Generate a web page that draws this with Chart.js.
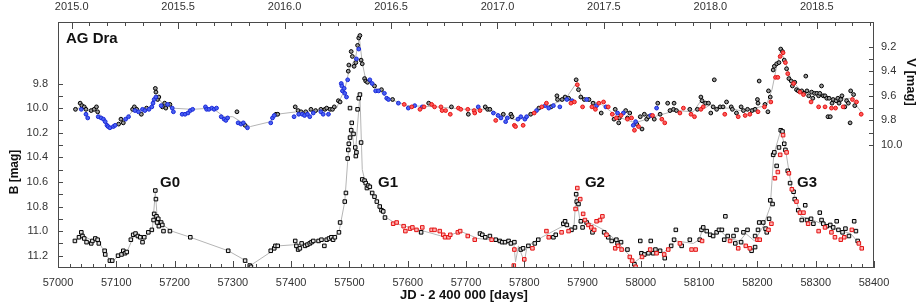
<!DOCTYPE html>
<html>
<head>
<meta charset="utf-8">
<script src="https://cdn.jsdelivr.net/npm/chart.js@4/dist/chart.umd.min.js"></script>
<style>
  html, body { margin: 0; padding: 0; background: #fff; }
  #contenedor { width: 918px; height: 307px; }
</style>
</head>
<body>
<div id="contenedor"><canvas id="graficaAgDra"></canvas></div>
<script>
// DATOS: [JD - 2400000, magnitud]
// BANDA V (EJE DERECHO)
const vNegro = [
  [57030,9.71],[57038,9.66],[57041,9.68],[57045,9.69],[57048,9.71],[57057,9.72],[57062,9.71],[57066,9.69],[57068,9.73],
  [57104,9.83],[57108,9.79],[57112,9.82],[57128,9.71],[57131,9.69],[57135,9.71],[57143,9.75],[57152,9.70],[57167,9.54],
  [57168,9.57],[57171,9.63],[57173,9.61],[57179,9.69],[57183,9.66],[57185,9.70],[57192,9.67],[57307,9.73],[57321,9.84],
  [57374,9.75],[57377,9.75],[57407,9.69],[57412,9.72],[57417,9.73],[57425,9.73],[57434,9.71],[57442,9.72],[57451,9.71],
  [57458,9.71],[57461,9.70],[57467,9.71],[57471,9.71],[57474,9.69],[57481,9.64],[57484,9.65],[57498,9.40],[57499,9.35],
  [57503,9.24],[57505,9.28],[57508,9.36],[57511,9.33],[57514,9.19],[57516,9.13],[57518,9.11],[57520,9.31],[57522,9.34],
  [57526,9.46],[57528,9.48],[57531,9.49],[57543,9.52],[57555,9.55],[57574,9.63],[57636,9.66],[57675,9.69],[57704,9.75],
  [57733,9.69],[57737,9.71],[57741,9.71],[57764,9.75],[57777,9.75],[57779,9.77],[57811,9.75],[57825,9.70],[57846,9.69],
  [57856,9.60],[57857,9.63],[57865,9.63],[57870,9.61],[57876,9.62],[57889,9.47],[57893,9.55],[57897,9.61],[57903,9.63],
  [57911,9.63],[57918,9.66],[57932,9.74],[57954,9.79],[57956,9.71],[57962,9.82],[57963,9.78],[57974,9.72],[57977,9.78],
  [57981,9.74],[57993,9.83],[57999,9.77],[58002,9.87],[58006,9.75],[58010,9.79],[58013,9.77],[58023,9.79],[58029,9.66],
  [58033,9.75],[58046,9.66],[58050,9.72],[58056,9.71],[58057,9.66],[58061,9.72],[58084,9.71],[58097,9.71],[58103,9.61],
  [58105,9.64],[58111,9.66],[58116,9.66],[58120,9.74],[58124,9.69],[58126,9.47],[58130,9.71],[58136,9.69],[58141,9.69],
  [58147,9.65],[58155,9.69],[58157,9.71],[58164,9.74],[58172,9.69],[58176,9.72],[58183,9.71],[58191,9.72],[58196,9.71],
  [58200,9.63],[58201,9.66],[58203,9.48],[58213,9.67],[58218,9.73],[58219,9.56],[58222,9.61],[58227,9.39],[58229,9.36],
  [58233,9.34],[58237,9.33],[58240,9.22],[58243,9.24],[58246,9.31],[58250,9.38],[58254,9.46],[58258,9.48],[58260,9.52],
  [58264,9.49],[58267,9.55],[58270,9.56],[58276,9.56],[58280,9.58],[58283,9.44],[58285,9.56],[58288,9.60],[58293,9.57],
  [58295,9.62],[58298,9.58],[58302,9.58],[58305,9.60],[58307,9.58],[58310,9.52],[58313,9.60],[58316,9.60],[58319,9.62],
  [58321,9.77],[58323,9.62],[58325,9.77],[58328,9.66],[58330,9.63],[58335,9.64],[58338,9.62],[58340,9.66],[58343,9.63],
  [58345,9.60],[58350,9.69],[58353,9.64],[58356,9.66],[58359,9.82],[58360,9.56],[58365,9.59],[58367,9.68]
];
const vAzul = [
  [57040,9.71],[57048,9.75],[57051,9.78],[57069,9.77],[57074,9.78],[57078,9.79],[57081,9.81],[57084,9.84],[57086,9.85],
  [57089,9.86],[57095,9.85],[57098,9.84],[57116,9.79],[57121,9.77],[57132,9.72],[57138,9.73],[57145,9.71],[57149,9.72],
  [57156,9.71],[57161,9.69],[57163,9.66],[57165,9.63],[57168,9.61],[57177,9.68],[57188,9.67],[57196,9.70],[57198,9.73],
  [57213,9.75],[57218,9.75],[57223,9.74],[57227,9.72],[57231,9.71],[57253,9.69],[57255,9.71],[57259,9.71],[57264,9.70],
  [57268,9.71],[57272,9.70],[57280,9.77],[57285,9.79],[57288,9.80],[57291,9.78],[57309,9.82],[57314,9.83],[57318,9.82],
  [57325,9.86],[57365,9.82],[57368,9.78],[57371,9.76],[57405,9.77],[57413,9.75],[57419,9.75],[57423,9.76],[57428,9.75],
  [57432,9.77],[57438,9.74],[57451,9.73],[57455,9.75],[57464,9.75],[57486,9.50],[57487,9.52],[57488,9.56],[57491,9.54],
  [57492,9.58],[57495,9.61],[57497,9.47],[57512,9.30],[57516,9.22],[57535,9.47],[57539,9.50],[57545,9.56],[57550,9.56],
  [57560,9.58],[57564,9.62],[57567,9.63],[57584,9.66],[57601,9.70],[57612,9.68],[57625,9.69],[57721,9.69],[57747,9.74],
  [57755,9.76],[57760,9.78],[57768,9.81],[57771,9.78],[57789,9.79],[57794,9.77],[57801,9.79],[57804,9.77],[57821,9.72],
  [57836,9.68],[57842,9.70],[57850,9.68],[57861,9.69],[57873,9.63],[57882,9.64],[57907,9.63],[57924,9.68],[57940,9.69],
  [57960,9.74],[57970,9.74],[57987,9.84],[57991,9.81],[58017,9.76],[58027,9.70]
];
const vRojo = [
  [57594,9.67],[57607,9.69],[57621,9.71],[57628,9.69],[57641,9.67],[57646,9.69],[57657,9.69],[57659,9.72],[57665,9.72],
  [57673,9.75],[57687,9.70],[57691,9.71],[57703,9.71],[57714,9.72],[57715,9.74],[57724,9.72],[57751,9.80],[57783,9.84],
  [57785,9.85],[57798,9.84],[57817,9.74],[57830,9.69],[57838,9.66],[57880,9.66],[57886,9.65],[57891,9.51],[57900,9.69],
  [57916,9.69],[57922,9.71],[57928,9.66],[57936,9.65],[57944,9.69],[57951,9.75],[57958,9.78],[57966,9.76],[57977,9.79],
  [57984,9.78],[57989,9.88],[57996,9.85],[58020,9.76],[58036,9.79],[58041,9.82],[58067,9.74],[58073,9.70],[58086,9.75],
  [58092,9.77],[58103,9.71],[58107,9.69],[58144,9.75],[58167,9.77],[58179,9.76],[58187,9.75],[58201,9.73],[58212,9.69],
  [58223,9.65],[58231,9.45],[58235,9.45],[58239,9.28],[58244,9.25],[58248,9.33],[58252,9.42],[58262,9.50],[58273,9.57],
  [58279,9.59],[58292,9.65],[58305,9.69],[58316,9.69],[58327,9.70],[58334,9.70],[58347,9.69],[58363,9.63],[58370,9.65],
  [58378,9.75]
];
const vTendencia = [
  [57030,9.70],[57045,9.70],[57055,9.73],[57065,9.71],[57080,9.80],[57092,9.86],[57105,9.82],[57120,9.77],[57130,9.71],
  [57150,9.72],[57163,9.66],[57170,9.60],[57180,9.67],[57195,9.70],[57230,9.71],[57265,9.70],[57285,9.77],[57300,9.77],
  [57320,9.83],[57330,9.85],[57365,9.81],[57375,9.75],[57410,9.73],[57450,9.72],[57478,9.70],[57485,9.62],[57492,9.55],
  [57500,9.38],[57510,9.30],[57517,9.13],[57522,9.33],[57528,9.47],[57545,9.53],[57565,9.62],[57600,9.68],[57650,9.69],
  [57700,9.71],[57740,9.71],[57770,9.78],[57790,9.80],[57830,9.70],[57870,9.63],[57889,9.50],[57900,9.63],[57930,9.66],
  [57960,9.77],[57990,9.82],[58030,9.76],[58060,9.72],[58090,9.73],[58103,9.64],[58110,9.70],[58120,9.67],[58130,9.70],
  [58150,9.70],[58170,9.72],[58195,9.70],[58215,9.68],[58225,9.55],[58233,9.36],[58240,9.23],[58248,9.33],[58258,9.47],
  [58275,9.56],[58300,9.58],[58330,9.63],[58360,9.62],[58378,9.73]
];

// BANDA B (EJE IZQUIERDO)
const bNegro = [
  [57029,11.08],[57036,11.05],[57040,11.01],[57042,11.04],[57045,11.06],[57049,11.09],[57057,11.10],[57059,11.08],[57064,11.06],
  [57068,11.07],[57070,11.10],[57080,11.16],[57081,11.19],[57089,11.24],[57093,11.24],[57103,11.20],[57109,11.19],[57112,11.16],
  [57115,11.18],[57118,11.17],[57125,11.07],[57129,11.03],[57133,11.02],[57137,11.04],[57141,11.05],[57145,11.09],[57148,11.05],
  [57155,11.01],[57161,10.99],[57164,10.91],[57165,10.86],[57167,10.67],[57168,10.74],[57169,10.88],[57170,10.93],[57172,10.90],
  [57173,10.96],[57177,10.93],[57179,10.95],[57181,11.00],[57192,11.00],[57227,11.05],[57292,11.16],[57321,11.24],[57329,11.28],
  [57331,11.29],[57365,11.16],[57371,11.14],[57373,11.12],[57377,11.12],[57407,11.08],[57409,11.12],[57412,11.15],[57415,11.14],
  [57418,11.10],[57424,11.12],[57428,11.11],[57432,11.10],[57435,11.09],[57438,11.08],[57447,11.08],[57452,11.07],[57457,11.12],
  [57461,11.07],[57465,11.06],[57469,11.05],[57472,11.07],[57475,11.05],[57482,11.01],[57484,10.93],[57492,10.76],[57494,10.69],
  [57497,10.41],[57498,10.34],[57499,10.29],[57501,10.24],[57501,10.00],[57503,10.18],[57504,10.12],[57507,10.21],[57510,10.32],
  [57511,10.39],[57512,10.36],[57514,10.01],[57516,9.92],[57518,9.89],[57520,10.28],[57522,10.58],[57526,10.59],[57528,10.61],
  [57530,10.65],[57532,10.63],[57535,10.64],[57539,10.69],[57543,10.72],[57547,10.76],[57552,10.80],[57555,10.83],[57558,10.84],
  [57561,10.89],[57623,11.01],[57724,11.02],[57728,11.03],[57733,11.05],[57741,11.04],[57751,11.07],[57758,11.08],[57762,11.09],
  [57767,11.09],[57773,11.08],[57777,11.10],[57783,11.09],[57794,11.15],[57798,11.14],[57807,11.12],[57818,11.10],[57824,11.07],
  [57850,11.05],[57854,11.03],[57867,10.94],[57870,10.92],[57873,10.95],[57881,10.99],[57887,10.97],[57889,10.70],[57890,10.76],
  [57893,10.78],[57897,10.92],[57900,10.97],[57907,10.93],[57917,11.01],[57937,11.01],[57944,11.05],[57950,11.08],[57958,11.07],
  [57960,11.10],[57966,11.09],[57977,11.15],[57989,11.27],[57999,11.08],[58001,11.18],[58006,11.19],[58013,11.18],[58017,11.08],
  [58021,11.18],[58025,11.15],[58033,11.16],[58041,11.22],[58052,11.12],[58057,11.07],[58060,10.99],[58070,11.12],[58084,11.07],
  [58101,11.07],[58104,10.99],[58107,10.97],[58113,11.00],[58119,11.03],[58124,11.04],[58130,11.01],[58134,10.99],[58139,10.99],
  [58143,11.07],[58145,10.88],[58149,11.04],[58159,11.04],[58162,11.10],[58164,10.99],[58172,11.09],[58176,11.01],[58183,10.99],
  [58190,11.16],[58196,11.04],[58196,11.13],[58201,10.99],[58203,10.93],[58210,10.93],[58214,10.98],[58216,11.01],[58220,10.90],
  [58222,10.75],[58226,10.78],[58227,10.38],[58229,10.36],[58233,10.47],[58237,10.32],[58240,10.18],[58243,10.19],[58246,10.29],
  [58248,10.34],[58252,10.51],[58256,10.61],[58262,10.68],[58264,10.74],[58270,10.83],[58276,10.91],[58282,10.79],[58285,10.91],
  [58292,10.90],[58296,10.94],[58307,10.85],[58310,10.91],[58313,10.94],[58319,10.96],[58325,10.95],[58330,10.97],[58336,10.92],
  [58339,10.99],[58346,11.01],[58351,10.98],[58357,11.04],[58366,10.92],[58369,11.00],[58372,11.08]
];
const bRojo = [
  [57575,10.94],[57581,10.93],[57593,10.96],[57596,11.00],[57604,10.98],[57608,10.97],[57615,10.99],[57625,10.97],[57641,10.99],
  [57646,10.99],[57655,11.00],[57661,11.03],[57664,11.05],[57670,11.05],[57673,11.03],[57686,11.01],[57690,11.00],[57703,11.04],
  [57715,11.07],[57744,11.07],[57782,11.28],[57783,11.15],[57800,11.23],[57814,11.14],[57838,11.00],[57842,11.05],[57864,11.01],
  [57876,11.00],[57888,10.82],[57891,10.65],[57896,10.74],[57901,10.86],[57904,10.91],[57910,10.95],[57915,10.97],[57920,10.99],
  [57924,10.92],[57930,10.91],[57934,10.88],[57941,11.03],[57956,11.14],[57961,11.12],[57967,11.15],[57981,11.21],[57985,11.24],
  [57991,11.29],[58002,11.21],[58016,11.15],[58027,11.18],[58040,11.19],[58047,11.15],[58067,11.10],[58087,11.15],[58094,11.15],
  [58105,11.08],[58153,11.08],[58167,11.14],[58180,11.12],[58187,11.14],[58200,11.07],[58204,11.07],[58219,10.99],[58224,10.94],
  [58230,10.57],[58235,10.52],[58239,10.38],[58244,10.22],[58250,10.36],[58254,10.53],[58259,10.66],[58267,10.76],[58273,10.85],
  [58279,10.85],[58287,10.94],[58305,11.00],[58316,10.97],[58327,11.01],[58333,11.05],[58343,11.07],[58349,11.05],[58362,10.99],
  [58374,11.10],[58379,11.14]
];
const bTendencia = [
  [57030,11.08],[57040,11.03],[57060,11.08],[57070,11.09],[57080,11.17],[57092,11.26],[57105,11.19],[57120,11.15],[57130,11.04],
  [57150,11.05],[57162,10.98],[57167,10.68],[57170,10.88],[57180,10.95],[57195,11.00],[57227,11.05],[57292,11.16],[57322,11.24],
  [57330,11.28],[57365,11.17],[57378,11.12],[57408,11.11],[57440,11.09],[57470,11.06],[57482,11.01],[57492,10.76],[57499,10.30],
  [57503,10.15],[57510,10.38],[57518,9.89],[57522,10.50],[57528,10.62],[57545,10.74],[57560,10.88],[57580,10.94],[57620,10.99],
  [57665,11.05],[57690,11.00],[57720,11.06],[57760,11.08],[57782,11.10],[57785,11.25],[57790,11.12],[57800,11.25],[57805,11.12],
  [57830,11.05],[57870,10.95],[57885,10.98],[57889,10.70],[57895,10.90],[57920,10.95],[57940,11.00],[57960,11.09],[57990,11.25],
  [58010,11.18],[58040,11.17],[58060,11.08],[58090,11.10],[58100,11.07],[58107,10.97],[58120,11.04],[58135,10.99],[58150,11.06],
  [58170,11.08],[58180,11.02],[58195,11.08],[58210,10.96],[58222,10.80],[58228,10.38],[58240,10.18],[58248,10.33],[58258,10.63],
  [58275,10.88],[58300,10.92],[58330,10.98],[58360,11.02],[58378,11.12]
];

// MARCAS DE LOS EJES
const ticksJD = [57000,57100,57200,57300,57400,57500,57600,57700,57800,57900,58000,58100,58200,58300,58400];
const aniosEtiqueta = ['2015.0','2015.5','2016.0','2016.5','2017.0','2017.5','2018.0','2018.5'];
const ticksB = [9.8,10.0,10.2,10.4,10.6,10.8,11.0,11.2];
const ticksV = [9.2,9.4,9.6,9.8,10.0];
const episodios = ['G0','G1','G2','G3'];

// CONVERSION DE ANIO DECIMAL A JD - 2400000
const jdDeAnio = (anio) => 57023.5 + (anio - 2015) * 365.25;

const aPuntos = (lista) => lista.map(([x, y]) => ({ x, y }));
const fuente = 'Liberation Sans, Arial, sans-serif';

// POSICION DE LAS ETIQUETAS G0..G3 (JD, B)
const posEpisodios = [[57175,10.64],[57549,10.64],[57904,10.64],[58268,10.64]];

const dibujarMarco = {
  id: 'marco',
  afterDatasetsDraw(chart) {
    const { ctx, chartArea: a } = chart;
    const { x, yB, yV } = chart.scales;
    ctx.save();
    ctx.strokeStyle = '#4a4a4a';
    ctx.lineWidth = 1;
    ctx.strokeRect(a.left + 0.5, a.top + 0.5, a.right - a.left - 1, a.bottom - a.top - 1);

    ctx.beginPath();
    // MARCAS INFERIORES CADA 20 DIAS
    for (let jd = 57000; jd <= 58400; jd += 20) {
      const px = Math.round(x.getPixelForValue(jd)) + 0.5;
      const largo = jd % 100 === 0 ? 7 : 4;
      ctx.moveTo(px, a.bottom);
      ctx.lineTo(px, a.bottom - largo);
    }
    // MARCAS SUPERIORES MENSUALES
    for (let k = 0; k <= 45; k++) {
      const px = Math.round(x.getPixelForValue(jdDeAnio(2015 + k / 12))) + 0.5;
      const largo = k % 6 === 0 ? 7 : 4;
      ctx.moveTo(px, a.top);
      ctx.lineTo(px, a.top + largo);
    }
    // MARCAS IZQUIERDAS Y DERECHAS CADA 0.1 MAG
    for (let i = 0; i <= 14; i++) {
      const py = Math.round(yB.getPixelForValue(9.8 + i * 0.1)) + 0.5;
      ctx.moveTo(a.left, py);
      ctx.lineTo(a.left + 5, py);
    }
    for (let i = 0; i <= 8; i++) {
      const py = Math.round(yV.getPixelForValue(9.2 + i * 0.1)) + 0.5;
      ctx.moveTo(a.right, py);
      ctx.lineTo(a.right - 5, py);
    }
    ctx.stroke();

    // TEXTOS
    ctx.fillStyle = '#111';
    ctx.textAlign = 'left';
    ctx.textBaseline = 'alphabetic';
    ctx.font = 'bold 15px ' + fuente;
    ctx.fillText('AG Dra', a.left + 8, a.top + 21);
    episodios.forEach((texto, i) => {
      const [jd, mag] = posEpisodios[i];
      ctx.fillText(texto, x.getPixelForValue(jd), yB.getPixelForValue(mag));
    });

    ctx.textAlign = 'center';
    ctx.textBaseline = 'middle';
    ctx.font = 'bold 13px ' + fuente;
    ctx.fillText('JD - 2 400 000 [days]', 464, 295);

    ctx.save();
    ctx.translate(15, 172);
    ctx.rotate(-Math.PI / 2);
    ctx.font = 'bold 12px ' + fuente;
    ctx.fillText('B [mag]', 0, 0);
    ctx.restore();

    ctx.save();
    ctx.translate(911, 82);
    ctx.rotate(Math.PI / 2);
    ctx.font = 'bold 13px ' + fuente;
    ctx.fillText('V [mag]', 0, 0);
    ctx.restore();

    ctx.restore();
  }
};

const estiloTicks = { color: '#333', font: { family: fuente, size: 11 } };

const config = {
  type: 'scatter',
  data: {
    datasets: [
      { data: aPuntos(bRojo), yAxisID: 'yB', pointStyle: 'rect', pointRadius: 2.5, borderWidth: 1,
        borderColor: '#e31313', backgroundColor: '#ffb0b0' },
      { data: aPuntos(bNegro), yAxisID: 'yB', pointStyle: 'rect', pointRadius: 2.5, borderWidth: 1,
        borderColor: '#000', backgroundColor: '#e0e0e0' },
      { data: aPuntos(vRojo), yAxisID: 'yV', pointRadius: 1.9, borderWidth: 1,
        borderColor: '#e31313', backgroundColor: '#ff5a5a' },
      { data: aPuntos(vAzul), yAxisID: 'yV', pointRadius: 1.9, borderWidth: 1,
        borderColor: '#1a28d8', backgroundColor: '#4a62f2' },
      { data: aPuntos(vNegro), yAxisID: 'yV', pointRadius: 1.9, borderWidth: 1,
        borderColor: '#000', backgroundColor: '#999' },
      { type: 'line', data: aPuntos(bTendencia), yAxisID: 'yB', borderColor: '#b5b5b5', borderWidth: 1,
        pointRadius: 0, tension: 0 },
      { type: 'line', data: aPuntos(vTendencia), yAxisID: 'yV', borderColor: '#b5b5b5', borderWidth: 1,
        pointRadius: 0, tension: 0 }
    ]
  },
  options: {
    responsive: true,
    maintainAspectRatio: false,
    animation: false,
    devicePixelRatio: 1,
    layout: { padding: 0, autoPadding: false },
    plugins: { legend: { display: false }, tooltip: { enabled: false } },
    scales: {
      x: {
        type: 'linear', position: 'bottom', min: 57000, max: 58400,
        grid: { display: false, drawTicks: false }, border: { display: false },
        afterBuildTicks: (s) => { s.ticks = ticksJD.map((value) => ({ value })); },
        afterFit: (s) => { s.height = 39; },
        ticks: { ...estiloTicks, padding: 8, maxRotation: 0, autoSkip: false, callback: (v) => String(v) }
      },
      xTop: {
        type: 'linear', position: 'top', min: 57000, max: 58400,
        grid: { display: false, drawTicks: false }, border: { display: false },
        afterBuildTicks: (s) => { s.ticks = aniosEtiqueta.map((a) => ({ value: jdDeAnio(parseFloat(a)) })); },
        afterFit: (s) => { s.height = 22; },
        ticks: { ...estiloTicks, padding: 8, maxRotation: 0, autoSkip: false, callback: (v, i) => aniosEtiqueta[i] }
      },
      yB: {
        type: 'linear', position: 'left', reverse: true, min: 9.3, max: 11.3,
        grid: { display: false, drawTicks: false }, border: { display: false },
        afterBuildTicks: (s) => { s.ticks = ticksB.map((value) => ({ value })); },
        afterFit: (s) => { s.width = 58; },
        ticks: { ...estiloTicks, padding: 10, autoSkip: false, callback: (v) => v.toFixed(1) }
      },
      yV: {
        type: 'linear', position: 'right', reverse: true, min: 9.0, max: 11.0,
        grid: { display: false, drawTicks: false }, border: { display: false },
        afterBuildTicks: (s) => { s.ticks = ticksV.map((value) => ({ value })); },
        afterFit: (s) => { s.width = 44; },
        ticks: { ...estiloTicks, padding: 7, autoSkip: false, callback: (v) => v.toFixed(1) }
      }
    }
  },
  plugins: [dibujarMarco]
};

new Chart(document.getElementById('graficaAgDra'), config);
</script>
</body>
</html>
